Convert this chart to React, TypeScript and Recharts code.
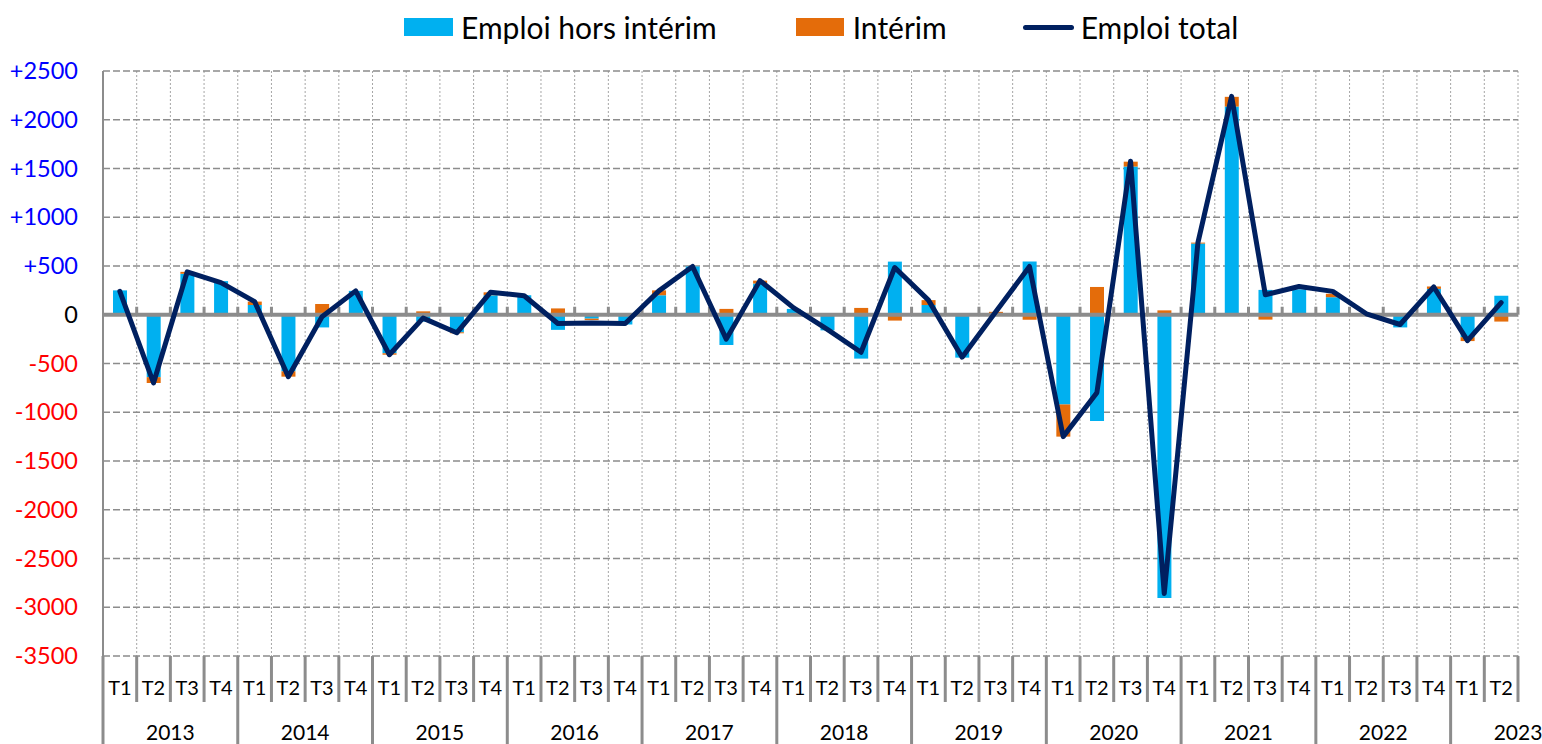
import React from "react";
import {
  ComposedChart,
  Bar,
  Line,
  XAxis,
  YAxis,
  CartesianGrid,
  ReferenceLine,
  Legend,
} from "recharts";

const periods = [
  "2013 T1", "2013 T2", "2013 T3", "2013 T4",
  "2014 T1", "2014 T2", "2014 T3", "2014 T4",
  "2015 T1", "2015 T2", "2015 T3", "2015 T4",
  "2016 T1", "2016 T2", "2016 T3", "2016 T4",
  "2017 T1", "2017 T2", "2017 T3", "2017 T4",
  "2018 T1", "2018 T2", "2018 T3", "2018 T4",
  "2019 T1", "2019 T2", "2019 T3", "2019 T4",
  "2020 T1", "2020 T2", "2020 T3", "2020 T4",
  "2021 T1", "2021 T2", "2021 T3", "2021 T4",
  "2022 T1", "2022 T2", "2022 T3", "2022 T4",
  "2023 T1", "2023 T2",
];

const horsInterim = [
  250, -640, 420, 345, 100, -580, -130, 245, -395, -70, -180, 200, 200, -155,
  -40, -100, 200, 495, -310, 320, 60, -160, -450, 545, 100, -440, 5, 545, -920,
  -1090, 1520, -2905, 730, 2135, 255, 260, 180, 10, -130, 265, -230, 195,
];

const interim = [
  0, -60, 20, -15, 35, -55, 110, 0, -15, 35, -10, 30, 0, 65, -15, 10, 50, 0, 60,
  30, -5, 0, 70, -60, 50, 0, 25, -50, -330, 285, 50, 45, 10, 100, -50, 0, 35, 0,
  15, 25, -40, -70,
];

const emploiTotal = [
  240, -700, 440, 330, 135, -635, -20, 245, -410, -35, -185, 230, 195, -90, -85,
  -90, 245, 495, -250, 350, 70, -150, -385, 485, 150, -435, 30, 495, -1250, -800,
  1575, -2860, 740, 2240, 205, 290, 240, 10, -100, 285, -265, 125,
];

const yTicks = [2500, 2000, 1500, 1000, 500, 0, -500, -1000, -1500, -2000, -2500, -3000, -3500];

const BLUE = "#00B0F0";
const ORANGE = "#E46C0A";
const NAVY = "#002060";
const AXIS_GREY = "#8c8c8c";
const FONT = "Lato, 'Liberation Sans', sans-serif";

const data = periods.map((p, i) => ({
  period: p,
  horsInterim: horsInterim[i],
  interim: interim[i],
  total: emploiTotal[i],
}));

const YTick = (props: any) => {
  const { x, y, payload } = props;
  const v = payload.value as number;
  const color = v > 0 ? "#0000FF" : v < 0 ? "#FF0000" : "#000000";
  const label = v > 0 ? `+${v}` : String(v);
  return (
    <text x={x} y={y} dy={8} textAnchor="end" fontSize={23.5} fill={color} fontFamily={FONT}>
      {label}
    </text>
  );
};

const QuarterTick = (props: any) => {
  const { x, y, payload, index } = props;
  const half = payload?.offset || 16.85;
  const [year, q] = String(payload.value).split(" ");
  const isLastOfYear = q === "T4";
  return (
    <g>
      <text x={x} y={y + 39} textAnchor="middle" fontSize={20} fill="#000" fontFamily={FONT}>
        {q}
      </text>
      {q === "T1" && (
        <line x1={x - half} x2={x - half} y1={y} y2={y + 88} stroke={AXIS_GREY} strokeWidth={3} />
      )}
      {!isLastOfYear && (
        <line x1={x + half} x2={x + half} y1={y} y2={y + 46} stroke={AXIS_GREY} strokeWidth={3} />
      )}
      {isLastOfYear && index === periods.length - 1 && (
        <line x1={x + half} x2={x + half} y1={y} y2={y + 88} stroke={AXIS_GREY} strokeWidth={3} />
      )}
      {q === "T2" && (
        <text x={x + half} y={y + 84} textAnchor="middle" fontSize={21} fill="#000" fontFamily={FONT}>
          {year}
        </text>
      )}
    </g>
  );
};

const ZeroAxis = (props: any) => {
  const { x1, x2, y1 } = props;
  const step = (x2 - x1) / periods.length;
  return (
    <g>
      <line x1={x1} x2={x2} y1={y1} y2={y1} stroke={AXIS_GREY} strokeWidth={4} />
      {periods.map((_, k) => (
        <line
          key={k}
          x1={x1 + (k + 1) * step}
          x2={x1 + (k + 1) * step}
          y1={y1 - 8}
          y2={y1}
          stroke={AXIS_GREY}
          strokeWidth={3}
        />
      ))}
    </g>
  );
};

const LegendContent = () => (
  <div
    style={{
      display: "flex",
      alignItems: "center",
      height: 36,
      paddingLeft: 404,
      fontFamily: FONT,
      fontSize: 30,
      color: "#000",
      whiteSpace: "nowrap",
    }}
  >
    <span style={{ width: 49, height: 18, background: BLUE, display: "inline-block" }} />
    <span style={{ marginLeft: 8 }}>Emploi hors intérim</span>
    <span style={{ width: 48, height: 18, background: ORANGE, display: "inline-block", marginLeft: 79 }} />
    <span style={{ marginLeft: 9 }}>Intérim</span>
    <span
      style={{ width: 51, height: 5, borderRadius: 3, background: NAVY, display: "inline-block", marginLeft: 76 }}
    />
    <span style={{ marginLeft: 7 }}>Emploi total</span>
  </div>
);

export default function App() {
  return (
    <div style={{ position: "absolute", left: 0, top: 0, width: 1542, height: 744, background: "#fff" }}>
      <ComposedChart
        width={1542}
        height={744}
        data={data}
        stackOffset="sign"
        margin={{ top: 35, right: 24, bottom: 0, left: 13 }}
        barSize={14}
      >
        <Legend
          verticalAlign="top"
          align="left"
          content={<LegendContent />}
          wrapperStyle={{ top: 9, left: 0, width: 1542, height: 36 }}
        />
        <CartesianGrid
          horizontal={false}
          stroke="#a6a6a6"
          strokeDasharray="2 2"
          verticalCoordinatesGenerator={({ offset }: any) =>
            Array.from({ length: periods.length + 1 }, (_, k) => offset.left + (k * offset.width) / periods.length)
          }
        />
        <CartesianGrid vertical={false} stroke={AXIS_GREY} strokeWidth={1.5} strokeDasharray="7 3" />
        <XAxis
          dataKey="period"
          interval={0}
          height={88}
          tickSize={0}
          tickMargin={0}
          axisLine={false}
          tickLine={false}
          tick={<QuarterTick />}
        />
        <YAxis
          domain={[-3500, 2500]}
          ticks={yTicks}
          interval={0}
          width={90}
          tickLine={false}
          tickMargin={19}
          axisLine={{ stroke: AXIS_GREY, strokeWidth: 2 }}
          tick={<YTick />}
        />
        <Bar dataKey="horsInterim" stackId="a" fill={BLUE} isAnimationActive={false} />
        <Bar dataKey="interim" stackId="a" fill={ORANGE} isAnimationActive={false} />
        <ReferenceLine y={0} shape={<ZeroAxis />} />
        <Line
          type="linear"
          dataKey="total"
          stroke={NAVY}
          strokeWidth={5}
          dot={false}
          strokeLinejoin="round"
          strokeLinecap="round"
          isAnimationActive={false}
        />
      </ComposedChart>
    </div>
  );
}
